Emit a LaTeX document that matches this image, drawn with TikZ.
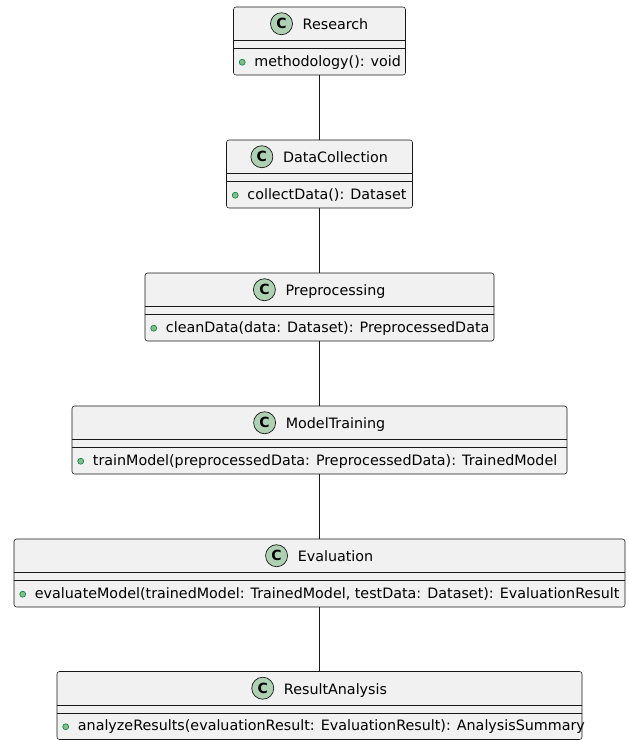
\documentclass[tikz,border=0pt]{standalone}
\usepackage{fontspec}
\setmainfont{DejaVu Sans}
\usetikzlibrary{calc}
\definecolor{boxfill}{HTML}{F1F1F1}
\definecolor{boxline}{HTML}{181818}
\definecolor{spotfill}{HTML}{ADD1B2}
\definecolor{dotfill}{HTML}{84BE84}
\definecolor{dotline}{HTML}{038048}
\tikzset{
  classbox/.style={draw=boxline, fill=boxfill, line width=0.55pt, rounded corners=2.5pt, inner sep=0pt, minimum height=68pt},
  sepline/.style={draw=boxline, line width=0.55pt},
  cname/.style={inner sep=0pt, anchor=base, text height=12pt, text depth=0pt, font=\fontsize{14.3}{16}\selectfont},
  spot/.style={circle, draw=boxline, fill=spotfill, line width=0.7pt, minimum size=22pt, inner sep=0pt, font=\fontsize{14}{16}\selectfont\bfseries},
  member/.style={inner sep=0pt, anchor=base west, font=\fontsize{14.3}{16}\selectfont},
  pubdot/.style={circle, draw=dotline, fill=dotfill, line width=0.6pt, minimum size=6pt, inner sep=0pt},
  link/.style={draw=boxline, line width=0.7pt}
}
\newcommand{\umlcls}[5]{%
  \node[classbox, minimum width=#3pt] (#1) at (319.5,#2+34) {};
  \draw[sepline] ([yshift=-34pt]#1.north west) -- ([yshift=-34pt]#1.north east);
  \draw[sepline] ([yshift=-42pt]#1.north west) -- ([yshift=-42pt]#1.north east);
  \node[cname] (#1n) at ($(#1.north)+(16,23)$) {#4};
  \node[spot] (#1c) at ($(#1n.west)+(-21,0)$) {C};
  \node[pubdot] (#1d) at ($(#1.north west)+(9,55.5)$) {};
  \node[member] (#1m) at ($(#1.north west)+(21,59.5)$) {#5};
}
\begin{document}
\begin{tikzpicture}[x=1pt,y=-1pt]
\useasboundingbox (0,0) rectangle (629,740);
\umlcls{b1}{7}{172}{Research}{methodology(): void}
\umlcls{b2}{140}{186}{DataCollection}{collectData(): Dataset}
\umlcls{b3}{273}{349}{Preprocessing}{cleanData(data: Dataset): PreprocessedData}
\umlcls{b4}{406}{495}{ModelTraining}{trainModel(preprocessedData: PreprocessedData): TrainedModel}
\umlcls{b5}{539}{611}{Evaluation}{evaluateModel(trainedModel: TrainedModel, testData: Dataset): EvaluationResult}
\umlcls{b6}{671.5}{525}{ResultAnalysis}{analyzeResults(evaluationResult: EvaluationResult): AnalysisSummary}
\draw[link] (b1.south) -- (b2.north);
\draw[link] (b2.south) -- (b3.north);
\draw[link] (b3.south) -- (b4.north);
\draw[link] (b4.south) -- (b5.north);
\draw[link] (b5.south) -- (b6.north);
\end{tikzpicture}
\end{document}
